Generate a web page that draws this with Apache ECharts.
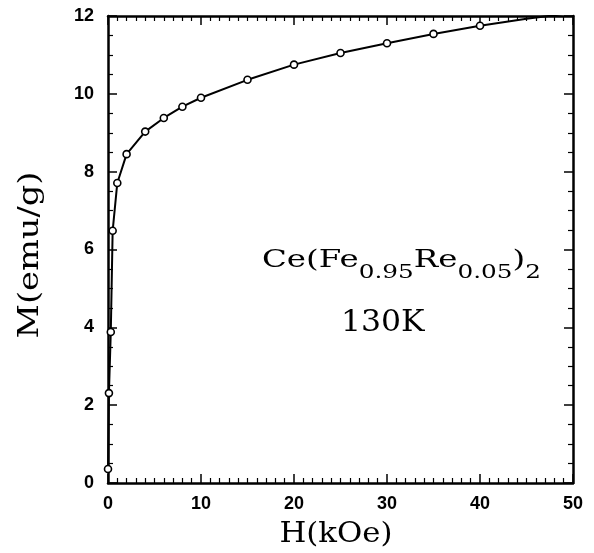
<!DOCTYPE html>
<html>
<head>
<meta charset="utf-8">
<script src="https://cdn.jsdelivr.net/npm/echarts@6/dist/echarts.min.js"></script>
<style>
  html, body { margin: 0; padding: 0; background: #fff; }
  #chart { width: 594px; height: 553px; }
</style>
</head>
<body>
<div id="chart"></div>
<script>
// field H (kOe) and magnetization M (emu/g)
const fieldH = [0, 0.1, 0.3, 0.5, 1, 2, 4, 6, 8, 10, 15, 20, 25, 30, 35, 40, 45, 50]
const magM = [0.36, 2.31, 3.88, 6.48, 7.71, 8.45, 9.03, 9.38, 9.67, 9.9, 10.36, 10.75, 11.05, 11.3, 11.54, 11.75, 11.93, 12.08]
// points after 40 kOe are drawn as line only (no circles in the figure)
const lastMarked = 40

const xTicks = [0, 10, 20, 30, 40, 50]
const yTicks = [0, 2, 4, 6, 8, 10, 12]

const chart = echarts.init(document.getElementById("chart"))

const tickFont = {
  color: "#000",
  fontFamily: "Liberation Sans",
  fontWeight: "bold",
  fontSize: 18,
}
const serif = "DejaVu Serif"
const lineStyle = { color: "#000", width: 2.5 }

const baseX = {
  type: "value",
  min: xTicks[0],
  max: xTicks[xTicks.length - 1],
  interval: 10,
  axisLine: { show: true, onZero: false, lineStyle: lineStyle },
  axisTick: { show: true, inside: true, length: 9, lineStyle: { color: "#000", width: 1.5 } },
  minorTick: { show: true, splitNumber: 10, length: 5, lineStyle: { color: "#000", width: 1.2 } },
  splitLine: { show: false },
}
const baseY = {
  type: "value",
  min: yTicks[0],
  max: yTicks[yTicks.length - 1],
  interval: 2,
  axisLine: { show: true, onZero: false, lineStyle: lineStyle },
  axisTick: { show: true, inside: true, length: 9, lineStyle: { color: "#000", width: 1.5 } },
  minorTick: { show: true, splitNumber: 4, length: 5, lineStyle: { color: "#000", width: 1.2 } },
  splitLine: { show: false },
}

const option = {
  animation: false,
  backgroundColor: "#fff",
  grid: { left: 108, right: 21, top: 16, bottom: 70 },
  xAxis: [
    Object.assign({}, baseX, {
      position: "bottom",
      axisLabel: Object.assign({ margin: 12 }, tickFont),
    }),
    Object.assign({}, baseX, {
      position: "top",
      axisLabel: { show: false },
    }),
  ],
  yAxis: [
    Object.assign({}, baseY, {
      position: "left",
      axisLabel: Object.assign({ margin: 14 }, tickFont),
    }),
    Object.assign({}, baseY, {
      position: "right",
      axisLabel: { show: false },
    }),
  ],
  graphic: [
    // axis titles (wide serif, like the original plot)
    {
      type: "text",
      x: 336,
      y: 535,
      scaleX: 1.1,
      style: { text: "H(kOe)", fontFamily: serif, fontSize: 28, fill: "#000", align: "center", verticalAlign: "middle" },
    },
    {
      type: "text",
      x: 31,
      y: 255,
      rotation: Math.PI / 2,
      scaleX: 1.2,
      style: { text: "M(emu/g)", fontFamily: serif, fontSize: 28, fill: "#000", align: "center", verticalAlign: "middle" },
    },
    {
      type: "text",
      x: 262,
      y: 248,
      scaleX: 1.3,
      style: {
        text: "{n|Ce(Fe}{s|0.95}{n|Re}{s|0.05}{n|)}{s|2}",
        align: "left",
        verticalAlign: "top",
        rich: {
          n: { fontFamily: serif, fontSize: 25, color: "#000", verticalAlign: "top", lineHeight: 25 },
          s: { fontFamily: serif, fontSize: 19, color: "#000", verticalAlign: "top", lineHeight: 19, padding: [16, 0, 0, 0] },
        },
      },
    },
    {
      type: "text",
      x: 341,
      y: 308,
      scaleX: 1.05,
      style: { text: "130K", fontFamily: serif, fontSize: 30, fill: "#000", align: "left", verticalAlign: "top" },
    },
  ],
  series: [
    {
      type: "line",
      xAxisIndex: 0,
      yAxisIndex: 0,
      clip: true,
      data: fieldH.map((h, i) => ({
        value: [h, magM[i]],
        symbol: h > lastMarked ? "none" : "circle",
      })),
      symbolSize: 7,
      itemStyle: { color: "#fff", borderColor: "#000", borderWidth: 1.6 },
      lineStyle: { color: "#000", width: 2 },
      z: 3,
    },
  ],
}

chart.setOption(option)
window.addEventListener("resize", () => {
  chart.resize()
})
</script>
</body>
</html>
